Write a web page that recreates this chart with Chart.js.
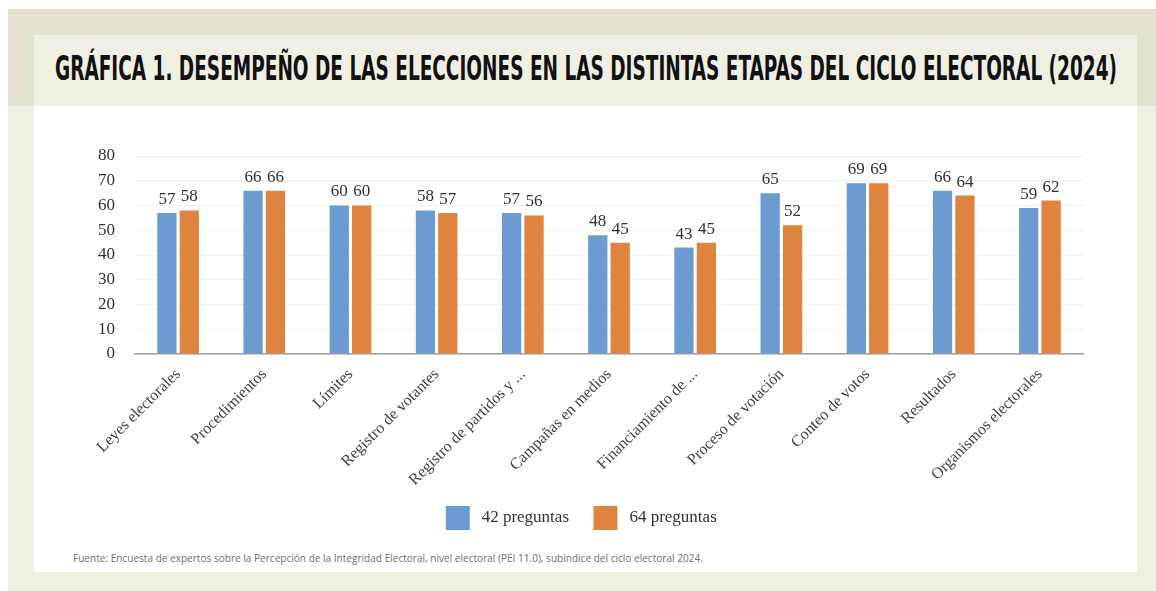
<!DOCTYPE html>
<html>
<head>
<meta charset="utf-8">
<script src="https://cdn.jsdelivr.net/npm/chart.js@4.4.1/dist/chart.umd.min.js"></script>
<style>
  html, body { margin: 0; padding: 0; background: #ffffff; }
  #page { position: relative; width: 1156px; height: 591px; overflow: hidden; }
  #topband { position: absolute; left: 8px; top: 9px; width: 1148px; height: 97px; background: #e5e2cd; }
  #lowband { position: absolute; left: 8px; top: 106px; width: 1148px; height: 485px; background: #f0efe3; }
  #titlebox { position: absolute; left: 34px; top: 35px; width: 1103px; height: 71px; background: #f0efe3; }
  #panel { position: absolute; left: 34px; top: 106px; width: 1103px; height: 466px; background: #ffffff; }
  #title { position: absolute; left: 55px; top: 51px; white-space: nowrap; transform-origin: 0 0;
           font-family: "DejaVu Sans Condensed", "DejaVu Sans", sans-serif; font-weight: bold; font-size: 34px;
           color: #111; line-height: 1; }
  #source { position: absolute; left: 73px; top: 552px; white-space: nowrap; transform-origin: 0 0;
            font-family: "Open Sans", sans-serif; font-size: 11px; color: #707070; line-height: 1; }
  #wrap { position: absolute; left: 34px; top: 106px; width: 1103px; height: 434px; }
</style>
</head>
<body>
<div id="page">
  <div id="topband"></div>
  <div id="lowband"></div>
  <div id="titlebox"></div>
  <div id="panel"></div>
  <div id="title">GRÁFICA 1. DESEMPEÑO DE LAS ELECCIONES EN LAS DISTINTAS ETAPAS DEL CICLO ELECTORAL (2024)</div>
  <div id="wrap"><canvas id="chart"></canvas></div>
  <div id="source">Fuente: Encuesta de expertos sobre la Percepción de la Integridad Electoral, nivel electoral (PEI 11.0), subíndice del ciclo electoral 2024.</div>
</div>
<script>
// Data
var categories = ["Leyes electorales", "Procedimientos", "Límites", "Registro de votantes",
    "Registro de partidos y ...", "Campañas en medios", "Financiamiento de ...",
    "Proceso de votación", "Conteo de votos", "Resultados", "Organismos electorales"];
var preguntas42 = [57, 66, 60, 58, 57, 48, 43, 65, 69, 66, 59];
var preguntas64 = [58, 66, 60, 57, 56, 45, 45, 52, 69, 64, 62];
var seriesNames = ["42 preguntas", "64 preguntas"];
var yTicks = [0, 10, 20, 30, 40, 50, 60, 70, 80];

// fit title and source to their widths
function fitWidth(id, w) {
    var el = document.getElementById(id);
    el.style.transform = "scaleX(" + (w / el.scrollWidth) + ")";
}
fitWidth("title", 1062);
fitWidth("source", 630);

var serif = "'Liberation Serif', 'DejaVu Serif', serif";

// values above bars
var barValues = {
    id: "barValues",
    afterDatasetsDraw: function (chart) {
        var ctx = chart.ctx;
        ctx.save();
        ctx.font = "17px " + serif;
        ctx.fillStyle = "#333333";
        ctx.textAlign = "center";
        ctx.textBaseline = "bottom";
        chart.data.datasets.forEach(function (ds, i) {
            chart.getDatasetMeta(i).data.forEach(function (bar, j) {
                ctx.fillText(ds.data[j], bar.x, bar.y - 5);
            });
        });
        ctx.restore();
    }
};

var ctx = document.getElementById("chart").getContext("2d");
var myChart = new Chart(ctx, {
    type: "bar",
    data: {
        labels: categories,
        datasets: [
            {
                label: seriesNames[0],
                data: preguntas42,
                backgroundColor: "#6b9bd1",
                categoryPercentage: 0.52,
                barPercentage: 0.86
            },
            {
                label: seriesNames[1],
                data: preguntas64,
                backgroundColor: "#e0833f",
                categoryPercentage: 0.52,
                barPercentage: 0.86
            }
        ]
    },
    options: {
        responsive: true,
        maintainAspectRatio: false,
        animation: false,
        layout: { padding: { top: 50, right: 54, left: 54, bottom: 0 } },
        plugins: {
            legend: {
                position: "bottom",
                labels: {
                    boxWidth: 24,
                    boxHeight: 24,
                    padding: 16,
                    color: "#333333",
                    font: { family: serif, size: 17 },
                    generateLabels: function (chart) {
                        var items = Chart.defaults.plugins.legend.labels.generateLabels(chart);
                        items.forEach(function (it) { it.text = "\u2009" + it.text + "\u2002"; });
                        return items;
                    }
                }
            },
            tooltip: { enabled: false }
        },
        scales: {
            x: {
                grid: { display: false },
                border: { color: "#a0a0a0", width: 1.5 },
                ticks: {
                    maxRotation: 45,
                    minRotation: 45,
                    color: "#404040",
                    font: { family: serif, size: 16 }
                },
                afterFit: function (scale) { scale.height = 136; }
            },
            y: {
                min: 0,
                max: 80,
                afterBuildTicks: function (scale) {
                    scale.ticks = yTicks.map(function (v) { return { value: v }; });
                },
                grid: { color: "#f0f0f0", drawTicks: false },
                border: { display: false },
                ticks: {
                    padding: 20,
                    color: "#333333",
                    font: { family: serif, size: 17 }
                },
                afterFit: function (scale) { scale.width = 47; }
            }
        }
    },
    plugins: [barValues]
});
</script>
</body>
</html>
